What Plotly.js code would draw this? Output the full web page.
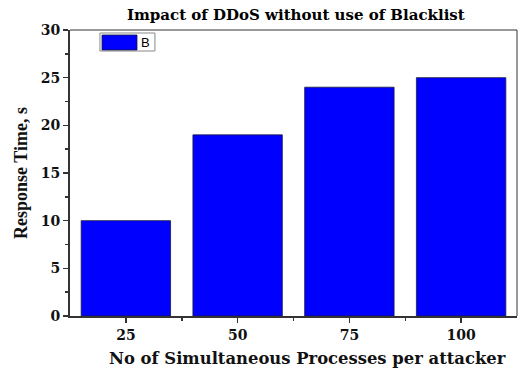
<!DOCTYPE html>
<html>
<head>
<meta charset="utf-8">
<script src="https://cdn.plot.ly/plotly-3.0.1.min.js"></script>
<style>html,body{margin:0;padding:0;background:#fff;}#chart{width:519px;height:371px;}</style>
</head>
<body>
<div id="chart"></div>
<script>
const categories = [25, 50, 75, 100];
const responseTime = [10, 19, 24, 25];
const seriesName = "B";
const yTicks = [0, 5, 10, 15, 20, 25, 30];
const xTitle = "No of Simultaneous Processes per attacker";

const serif = "Liberation Serif, Times New Roman, serif";
const wideSerif = "DejaVu Serif, serif";

const trace = {
  type: "bar",
  x: categories,
  y: responseTime,
  name: seriesName,
  width: 20,
  marker: {color: "#0000ff", line: {color: "#1a1a40", width: 0.8}},
  showlegend: false
};

const layout = {
  width: 519, height: 371,
  margin: {l: 70, r: 2, t: 30, b: 55},
  paper_bgcolor: "#fff", plot_bgcolor: "#fff",
  title: {text: "<b>Impact of DDoS without use of Blacklist</b>", x: 0.57, xanchor: "center", y: 0.96, yanchor: "middle",
          font: {family: wideSerif, size: 15, color: "#000"}},
  xaxis: {
    range: [12.5, 112.5], tickvals: categories, ticktext: categories.map(String),
    ticks: "outside", ticklen: 5, tickwidth: 1.5, tickcolor: "#333",
    minor: {tickvals: [37.5, 62.5, 87.5], ticks: "outside", ticklen: 3, tickwidth: 1.5, tickcolor: "#333"},
    showline: true, linewidth: 2, linecolor: "#333", showgrid: false, zeroline: false,
    tickfont: {family: wideSerif, size: 14, color: "#111", weight: "bold"}
  },
  yaxis: {
    range: [0, 30], tickvals: yTicks,
    ticks: "outside", ticklen: 5, tickwidth: 1.5, tickcolor: "#333",
    minor: {dtick: 2.5, ticks: "outside", ticklen: 3, tickwidth: 1.5, tickcolor: "#333"},
    showline: true, linewidth: 2, linecolor: "#333", showgrid: false, zeroline: false,
    tickfont: {family: wideSerif, size: 14, color: "#111", weight: "bold"},
    title: {text: "<b>Response Time, s</b>", font: {family: serif, size: 18, color: "#111"}, standoff: 8}
  },
  shapes: [
    {type: "line", xref: "paper", yref: "paper", x0: 0, x1: 1, y0: 1, y1: 1, line: {color: "#333", width: 1}},
    {type: "line", xref: "paper", yref: "paper", x0: 1, x1: 1, y0: 0, y1: 1, line: {color: "#333", width: 1}},
    {type: "rect", xref: "paper", yref: "paper", x0: 0.067, x1: 0.19, y0: 0.9266, y1: 0.9895, line: {color: "#888", width: 1}, fillcolor: "#fff"},
    {type: "rect", xref: "paper", yref: "paper", x0: 0.0716, x1: 0.1499, y0: 0.9301, y1: 0.9825, line: {color: "#1a1a40", width: 0.8}, fillcolor: "#0000ff"}
  ],
  annotations: [
    {text: seriesName, xref: "paper", yref: "paper", x: 0.17, y: 0.958, xanchor: "center", yanchor: "middle", showarrow: false,
     font: {family: "Liberation Sans, Arial, sans-serif", size: 13, color: "#000"}},
    {text: "<b>" + xTitle + "</b>", xref: "paper", yref: "paper", x: 0.532, y: -0.15, xanchor: "center", yanchor: "middle", showarrow: false,
     font: {family: wideSerif, size: 16.4, color: "#111"}}
  ]
};

Plotly.newPlot("chart", [trace], layout, {displayModeBar: false, staticPlot: true});
</script>
</body>
</html>
